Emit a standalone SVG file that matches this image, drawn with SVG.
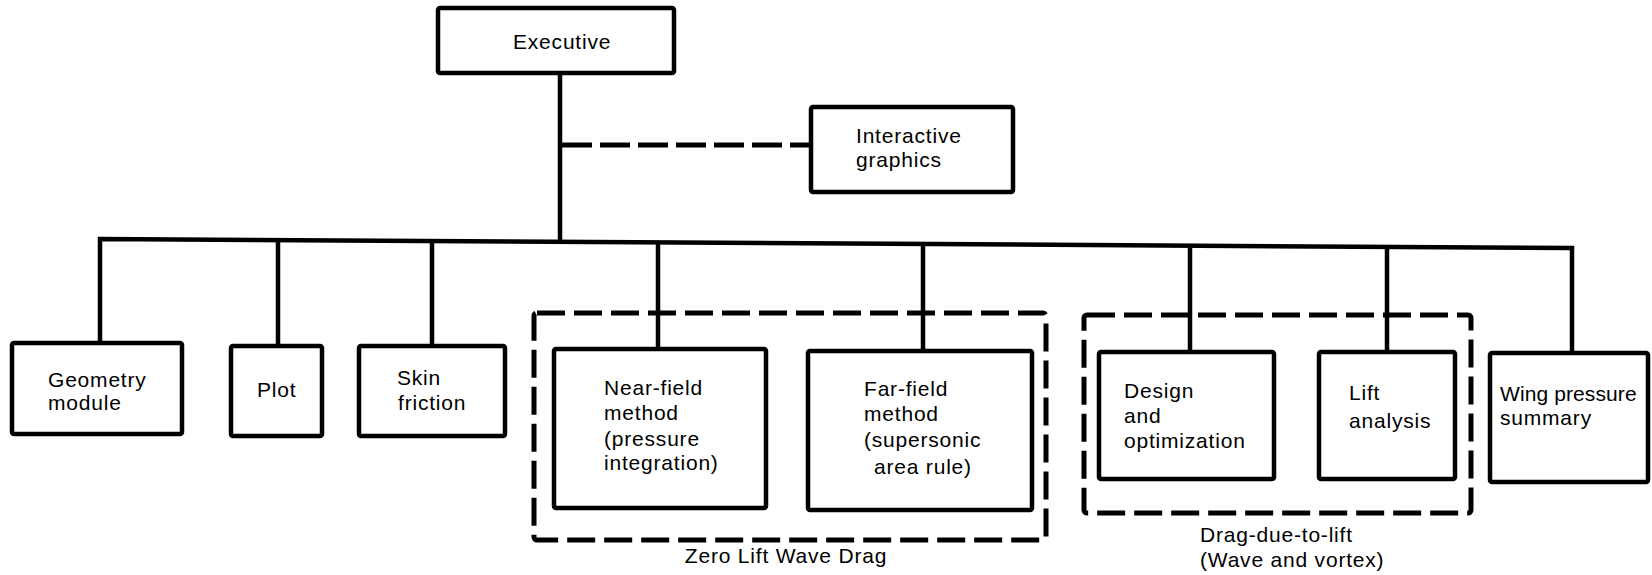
<svg xmlns="http://www.w3.org/2000/svg" width="1652" height="575" viewBox="0 0 1652 575">
<style>
.box{fill:#fff;stroke:#000;stroke-width:4.5}
.grp{fill:none;stroke:#000;stroke-width:5;stroke-dasharray:28 9}
.ln{fill:none;stroke:#000;stroke-width:4.5}
.dash{fill:none;stroke:#000;stroke-width:5;stroke-dasharray:30 8}
text{font-family:"Liberation Sans",Arial,sans-serif;font-size:21px;letter-spacing:0.8px;fill:#000}
</style>
<rect width="1652" height="575" fill="#fff"/>
<g id="group-zero-lift">
<rect class="grp" x="534" y="313" width="512" height="227" rx="3"/>
<text x="786" y="563" text-anchor="middle">Zero Lift Wave Drag</text>
</g>
<g id="group-drag-due-to-lift">
<rect class="grp" x="1084" y="315" width="387" height="198" rx="3"/>
<text x="1200" y="542">Drag-due-to-lift</text>
<text x="1200" y="567">(Wave and vortex)</text>
</g>
<g id="connectors">
<line class="ln" x1="560" y1="73" x2="560" y2="241"/>
<line class="dash" x1="562" y1="145" x2="809" y2="145"/>
<polyline class="ln" points="100,343 100,239 1572,248 1572,353"/>
<line class="ln" x1="278" y1="240" x2="278" y2="346"/>
<line class="ln" x1="432" y1="241" x2="432" y2="346"/>
<line class="ln" x1="658" y1="242" x2="658" y2="349"/>
<line class="ln" x1="923" y1="244" x2="923" y2="351"/>
<line class="ln" x1="1190" y1="246" x2="1190" y2="352"/>
<line class="ln" x1="1387" y1="247" x2="1387" y2="352"/>
</g>
<g id="executive">
<rect class="box" x="438" y="8" width="236" height="65" rx="2"/>
<text x="513" y="49">Executive</text>
</g>
<g id="interactive-graphics">
<rect class="box" x="811" y="107" width="202" height="85" rx="2"/>
<text x="856" y="143">Interactive</text>
<text x="856" y="167">graphics</text>
</g>
<g id="geometry-module">
<rect class="box" x="12" y="343" width="170" height="91" rx="2"/>
<text x="48" y="387">Geometry</text>
<text x="48" y="410">module</text>
</g>
<g id="plot">
<rect class="box" x="231" y="346" width="91" height="90" rx="2"/>
<text x="257" y="397">Plot</text>
</g>
<g id="skin-friction">
<rect class="box" x="359" y="346" width="146" height="90" rx="2"/>
<text x="397" y="385">Skin</text>
<text x="398" y="410">friction</text>
</g>
<g id="near-field">
<rect class="box" x="554" y="349" width="212" height="159" rx="2"/>
<text x="604" y="395">Near-field</text>
<text x="604" y="420">method</text>
<text x="604" y="446">(pressure</text>
<text x="604" y="470">integration)</text>
</g>
<g id="far-field">
<rect class="box" x="808" y="351" width="224" height="159" rx="2"/>
<text x="864" y="396">Far-field</text>
<text x="864" y="421">method</text>
<text x="864" y="447">(supersonic</text>
<text x="874" y="474">area rule)</text>
</g>
<g id="design-optimization">
<rect class="box" x="1099" y="352" width="175" height="127" rx="2"/>
<text x="1124" y="398">Design</text>
<text x="1124" y="423">and</text>
<text x="1124" y="448">optimization</text>
</g>
<g id="lift-analysis">
<rect class="box" x="1319" y="352" width="136" height="127" rx="2"/>
<text x="1349" y="400">Lift</text>
<text x="1349" y="428">analysis</text>
</g>
<g id="wing-pressure-summary">
<rect class="box" x="1490" y="353" width="158" height="129" rx="2"/>
<text x="1500" y="401" style="letter-spacing:0.1px">Wing pressure</text>
<text x="1500" y="425">summary</text>
</g>
</svg>
